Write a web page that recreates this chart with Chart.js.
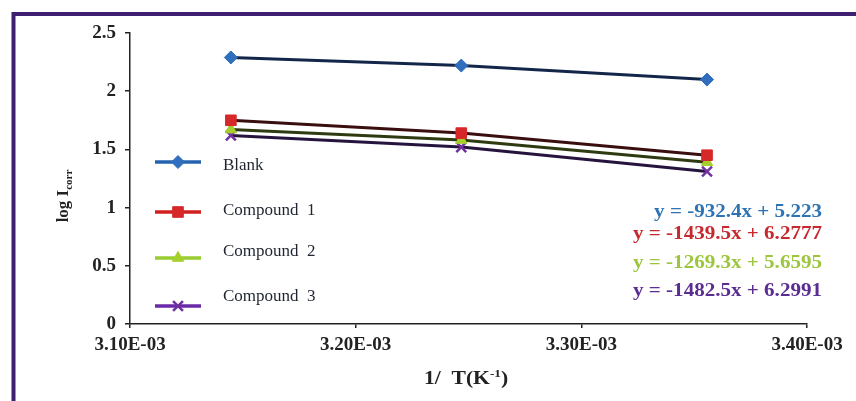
<!DOCTYPE html>
<html>
<head>
<meta charset="utf-8">
<script src="https://cdn.jsdelivr.net/npm/chart.js@4.4.1/dist/chart.umd.min.js"></script>
<style>
  html, body { margin: 0; padding: 0; background: #fff; }
  #wrap { position: relative; width: 856px; height: 401px; }
</style>
</head>
<body>
<div id="wrap"><canvas id="c" width="856" height="401"></canvas></div>
<script>
// ---- data ----
const invT = [0.0031447, 0.0032468, 0.0033557];          // 1/T (K^-1)
const seriesNames = ['Blank', 'Compound  1', 'Compound  2', 'Compound  3'];
const blank = [2.29, 2.22, 2.10];
const compound1 = [1.75, 1.64, 1.45];
const compound2 = [1.67, 1.58, 1.39];
const compound3 = [1.62, 1.52, 1.31];
const xTickValues = [0.0031, 0.0032, 0.0033, 0.0034];
const xTickLabels = ['3.10E-03', '3.20E-03', '3.30E-03', '3.40E-03'];
const yTickValues = [0, 0.5, 1, 1.5, 2, 2.5];
const yTickLabels = ['0', '0.5', '1', '1.5', '2', '2.5'];
const equations = ['y = -932.4x + 5.223', 'y = -1439.5x + 6.2777', 'y = -1269.3x + 5.6595', 'y = -1482.5x + 6.2991'];

// ---- styles ----
const markerColors = ['#2f6fbd', '#d62828', '#a6cf2c', '#7030a0'];
const lineColors = ['#13264a', '#3a0e0e', '#2e3a10', '#26143f'];
const legendLineColors = ['#2563b0', '#d02020', '#9acd32', '#6a2aa8'];
const eqColors = ['#2e74b5', '#c62a2e', '#9cc63e', '#5b2c91'];
const pointStyles = ['rectRot', 'rect', 'triangle', 'crossRot'];
const pointRadii = [6.5, 7.5, 6.5, 7];

const allSeries = [blank, compound1, compound2, compound3];
const datasets = allSeries.map((vals, i) => ({
  label: seriesNames[i],
  data: invT.map((x, j) => ({ x: x, y: vals[j] })),
  borderColor: lineColors[i],
  borderWidth: 3,
  backgroundColor: markerColors[i],
  pointBackgroundColor: markerColors[i],
  pointBorderColor: markerColors[i],
  pointBorderWidth: i === 3 ? 2.5 : 1,
  pointStyle: pointStyles[i],
  pointRadius: pointRadii[i],
  showLine: true,
  tension: 0,
  fill: false
}));

const SERIF = '"Liberation Serif", "Times New Roman", serif';

function drawMarker(ctx, style, x, y, r, color, bw) {
  ctx.save();
  ctx.fillStyle = color; ctx.strokeStyle = color; ctx.lineWidth = bw;
  ctx.beginPath();
  if (style === 'rectRot') {
    ctx.moveTo(x, y - r); ctx.lineTo(x + r, y); ctx.lineTo(x, y + r); ctx.lineTo(x - r, y); ctx.closePath();
    ctx.fill(); ctx.stroke();
  } else if (style === 'rect') {
    const s = r * Math.SQRT1_2;
    ctx.rect(x - s, y - s, 2 * s, 2 * s); ctx.fill(); ctx.stroke();
  } else if (style === 'triangle') {
    ctx.moveTo(x, y - r); ctx.lineTo(x + r * 0.87, y + r * 0.5); ctx.lineTo(x - r * 0.87, y + r * 0.5); ctx.closePath();
    ctx.fill(); ctx.stroke();
  } else {
    const s = r * Math.SQRT1_2;
    ctx.moveTo(x - s, y - s); ctx.lineTo(x + s, y + s);
    ctx.moveTo(x + s, y - s); ctx.lineTo(x - s, y + s);
    ctx.stroke();
  }
  ctx.restore();
}

function stretchedText(ctx, text, x, y, sx, align) {
  ctx.save();
  const w = ctx.measureText(text).width * sx;
  let left = x;
  if (align === 'right') left = x - w;
  else if (align === 'center') left = x - w / 2;
  ctx.translate(left, y);
  ctx.scale(sx, 1);
  ctx.textAlign = 'left';
  ctx.fillText(text, 0, 0);
  ctx.restore();
  return w;
}

const decor = {
  id: 'decor',
  beforeDraw(chart) {
    const ctx = chart.ctx;
    ctx.save();
    ctx.fillStyle = '#fff';
    ctx.fillRect(0, 0, chart.width, chart.height);
    // purple frame (cropped at right/bottom)
    ctx.strokeStyle = '#3f1f70';
    ctx.lineWidth = 4;
    ctx.beginPath();
    ctx.moveTo(13.5, chart.height + 5);
    ctx.lineTo(13.5, 14);
    ctx.lineTo(chart.width + 5, 14);
    ctx.stroke();
    ctx.restore();
  },
  afterDraw(chart) {
    const ctx = chart.ctx;
    ctx.save();
    // legend
    const legendRows = [
      { ly: 162, ty: 166 },
      { ly: 212, ty: 211 },
      { ly: 258, ty: 252 },
      { ly: 306, ty: 297 }
    ];
    ctx.textBaseline = 'middle';
    legendRows.forEach((row, i) => {
      ctx.strokeStyle = legendLineColors[i];
      ctx.lineWidth = 3.5;
      ctx.beginPath();
      ctx.moveTo(155, row.ly); ctx.lineTo(201, row.ly);
      ctx.stroke();
      drawMarker(ctx, pointStyles[i], 178, row.ly, pointRadii[i], markerColors[i], i === 3 ? 2.5 : 1);
      ctx.fillStyle = '#1f2530';
      ctx.font = '17px ' + SERIF;
      stretchedText(ctx, seriesNames[i], 223, row.ty, 1.0, 'left');
    });
    // equations
    const eqY = [212, 234, 263, 291];
    ctx.font = 'bold 18px ' + SERIF;
    equations.forEach((eq, i) => {
      ctx.fillStyle = eqColors[i];
      stretchedText(ctx, eq, 822, eqY[i], 1.17, 'right');
    });
    // x axis title: 1/ T(K-1)
    ctx.fillStyle = '#222';
    ctx.textBaseline = 'alphabetic';
    const sx = 1.2;
    ctx.font = 'bold 18px ' + SERIF;
    const part1 = '1/  T(K';
    const w1 = ctx.measureText(part1).width * sx;
    ctx.font = 'bold 11px ' + SERIF;
    const w2 = ctx.measureText('-1').width * sx;
    ctx.font = 'bold 18px ' + SERIF;
    const w3 = ctx.measureText(')').width * sx;
    let x0 = 466 - (w1 + w2 + w3) / 2;
    const base = 384;
    stretchedText(ctx, part1, x0, base, sx, 'left');
    ctx.font = 'bold 11px ' + SERIF;
    stretchedText(ctx, '-1', x0 + w1, base - 7, sx, 'left');
    ctx.font = 'bold 18px ' + SERIF;
    stretchedText(ctx, ')', x0 + w1 + w2, base, sx, 'left');
    // y axis title: log I_corr (rotated)
    ctx.save();
    ctx.translate(68, 196);
    ctx.rotate(-Math.PI / 2);
    ctx.font = 'bold 17px ' + SERIF;
    const a = 'log I';
    const wa = ctx.measureText(a).width;
    ctx.font = 'bold 11px ' + SERIF;
    const wb = ctx.measureText('corr').width;
    let sx0 = -(wa + wb) / 2;
    ctx.font = 'bold 17px ' + SERIF;
    ctx.textAlign = 'left';
    ctx.fillText(a, sx0, 0);
    ctx.font = 'bold 11px ' + SERIF;
    ctx.fillText('corr', sx0 + wa, 4);
    ctx.restore();
    ctx.restore();
  }
};

new Chart(document.getElementById('c'), {
  type: 'line',
  data: { datasets: datasets },
  options: {
    responsive: false,
    animation: false,
    devicePixelRatio: 1,
    layout: { padding: { top: 33, right: 49, bottom: 0, left: 0 } },
    plugins: { legend: { display: false }, tooltip: { enabled: false }, title: { display: false } },
    scales: {
      x: {
        type: 'linear',
        min: xTickValues[0],
        max: xTickValues[xTickValues.length - 1],
        afterBuildTicks: (s) => { s.ticks = xTickValues.map(v => ({ value: v })); },
        afterFit: (s) => { s.height = 77; },
        grid: { drawOnChartArea: false, drawTicks: true, tickLength: 4, color: '#222', lineWidth: 1.5 },
        border: { display: true, color: '#222', width: 1.5 },
        ticks: {
          padding: 6,
          color: '#222',
          maxRotation: 0,
          font: { family: SERIF, size: 19, weight: 'bold' },
          callback: (v, i) => xTickLabels[i]
        }
      },
      y: {
        type: 'linear',
        min: yTickValues[0],
        max: yTickValues[yTickValues.length - 1],
        afterBuildTicks: (s) => { s.ticks = yTickValues.map(v => ({ value: v })); },
        afterFit: (s) => { s.width = 130; },
        grid: { drawOnChartArea: false, drawTicks: true, tickLength: 5, color: '#222', lineWidth: 1.5 },
        border: { display: true, color: '#222', width: 1.5 },
        ticks: {
          padding: 9,
          color: '#222',
          font: { family: SERIF, size: 19, weight: 'bold' },
          callback: (v, i) => yTickLabels[i]
        }
      }
    }
  },
  plugins: [decor]
});
</script>
</body>
</html>
